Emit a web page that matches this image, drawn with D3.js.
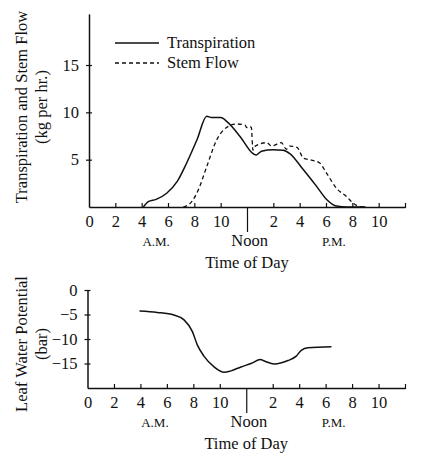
<!DOCTYPE html>
<html>
<head>
<meta charset="utf-8">
<script src="https://cdn.jsdelivr.net/npm/d3@7"></script>
<style>
  body { margin: 0; background: #fff; }
  text { font-family: "Liberation Serif", "DejaVu Serif", serif; fill: #111; }
</style>
</head>
<body>
<script>
//data (hour of day, value)
var transpiration = [[4.13,0],[4.5,0.56],[5.1,0.8],[5.9,1.45],[6.7,2.7],[7.4,4.6],[8.2,7.1],[8.94,9.6],
    [9.3,9.45],[10.0,9.45],[10.5,9.0],[11.5,7.4],[12.5,5.6],[12.7,5.5],[13.1,5.9],[14.0,6.05],
    [14.75,6.0],[15.25,5.65],[16.3,3.9],[17.3,2.15],[18.05,0.8],[18.8,0.1],[19.6,0],[21,0]];
var stemFlow = [[7.16,0],[7.8,0.56],[8.3,1.8],[8.94,4.26],[9.7,7.1],[10.45,8.4],[11.2,8.77],[11.85,8.66],
    [11.97,8.4],[12.2,8.5],[12.33,8.4],[12.45,6.0],[12.6,6.4],[13.5,6.8],[13.87,6.44],[14.6,6.8],
    [15.0,6.1],[15.26,6.44],[15.8,6.3],[16.3,5.14],[16.9,4.96],[17.5,4.68],[18.05,3.56],[18.8,1.97],
    [19.57,1.09],[20.07,0.39],[20.6,0.03],[21,0]];
var leafPotential = [[3.93,-4.3],[5.27,-4.57],[6.53,-5.1],[7.3,-6.1],[7.93,-8.5],[8.3,-11.2],[8.8,-13.5],
    [9.57,-15.7],[10.33,-16.8],[10.84,-16.5],[11.6,-15.7],[12.36,-15.0],[13.07,-14.2],[13.37,-14.5],
    [14.13,-15.1],[15.15,-14.4],[15.78,-13.5],[16.16,-12.3],[16.67,-11.8],[18.44,-11.6]];

var hourTicks = [2,4,6,8,10,12,14,16,18,20,22,24];
var hourLabels = {0:"0",2:"2",4:"4",6:"6",8:"8",10:"10",14:"2",16:"4",18:"6",20:"8",22:"10"};
var topTicks = [5,10,15];
var bottomTicks = [0,-5,-10,-15];
var legendItems = [{name:"Transpiration", dash:null}, {name:"Stem Flow", dash:"4,3"}];
var dayLabels = [{t:"A.M.", h:5.1, small:true}, {t:"Noon", h:12.2, small:false}, {t:"P.M.", h:18.6, small:true}];

var w = 446, h = 466;

window.onload = function(){

    var svg = d3.select("body").append("svg")
        .attr("width", w)
        .attr("height", h);

    //one panel = x axis, y axis, labels
    function panel(x0, yDomain, yRange, ticks, title1, title2, titleY){
        var x = d3.scaleLinear().domain([0, 24]).range([x0, 405]);
        var yS = d3.scaleLinear().domain(yDomain).range(yRange);
        var base = yRange[0];

        //x axis
        var xg = svg.append("g")
            .attr("transform", "translate(0," + base + ")")
            .call(d3.axisBottom(x)
                .tickValues([0].concat(hourTicks))
                .tickSizeInner(-4).tickSizeOuter(0)
                .tickPadding(8)
                .tickFormat(function(d){ return hourLabels[d] || ""; }));
        xg.selectAll("line").attr("y1", 1).attr("stroke", "#111").attr("stroke-width", 1.2);
        xg.selectAll(".tick").filter(function(d){ return d === 0; }).select("line").remove();
        xg.selectAll(".tick").filter(function(d){ return d === 12; }).select("line")
            .attr("y1", 0).attr("y2", 25);
        xg.select(".domain").attr("stroke", "#111").attr("stroke-width", 1.5);
        xg.selectAll("text").attr("font-size", 16.5).attr("font-family", "Liberation Serif").attr("fill", "#111");

        //y axis
        var yg = svg.append("g")
            .attr("transform", "translate(" + x0 + ",0)")
            .call(d3.axisLeft(yS).tickValues(ticks).tickSizeInner(3).tickSizeOuter(0).tickPadding(7)
                .tickFormat(function(d){ return d < 0 ? "\u2212" + (-d) : d; }));
        yg.selectAll("line").attr("x1", 3).attr("stroke", "#111").attr("stroke-width", 1.2);
        yg.select(".domain").attr("stroke", "#111").attr("stroke-width", 1.5);
        yg.selectAll("text").attr("font-size", 16.5).attr("font-family", "Liberation Serif").attr("fill", "#111");

        //A.M. / Noon / P.M.
        svg.selectAll(null).data(dayLabels).enter().append("text")
            .attr("x", function(d){ return x(d.h); })
            .attr("y", base + 39)
            .attr("text-anchor", "middle")
            .attr("font-size", function(d){ return d.small ? 13 : 16.5; })
            .text(function(d){ return d.t; });

        svg.append("text")
            .attr("x", x(12)).attr("y", base + 61)
            .attr("text-anchor", "middle").attr("font-size", 16.5)
            .text("Time of Day");

        //rotated y titles
        svg.append("text")
            .attr("transform", "translate(27," + titleY + ") rotate(-90)")
            .attr("text-anchor", "middle").attr("font-size", 16.5)
            .text(title1);
        svg.append("text")
            .attr("transform", "translate(47," + titleY + ") rotate(-90)")
            .attr("text-anchor", "middle").attr("font-size", 16.5)
            .text(title2);

        return {x: x, y: yS};
    }

    var top = panel(89, [0, 20.4], [207, 13.9], topTicks,
        "Transpiration and Stem Flow", "(kg per hr.)", 107);
    var bot = panel(87.5, [-20, 0], [388, 290], bottomTicks,
        "Leaf Water Potential", "(bar)", 344);

    var lineTop = d3.line()
        .x(function(d){ return top.x(d[0]); })
        .y(function(d){ return top.y(d[1]); })
        .curve(d3.curveMonotoneX);

    svg.append("path").datum(transpiration)
        .attr("d", lineTop)
        .attr("fill", "none").attr("stroke", "#111").attr("stroke-width", 1.5);

    svg.append("path").datum(stemFlow)
        .attr("d", lineTop)
        .attr("fill", "none").attr("stroke", "#111").attr("stroke-width", 1.3)
        .attr("stroke-dasharray", "4,3");

    var lineBot = d3.line()
        .x(function(d){ return bot.x(d[0]); })
        .y(function(d){ return bot.y(d[1]); })
        .curve(d3.curveMonotoneX);

    svg.append("path").datum(leafPotential)
        .attr("d", lineBot)
        .attr("fill", "none").attr("stroke", "#111").attr("stroke-width", 1.5);

    //legend
    var lg = svg.selectAll(".legend").data(legendItems).enter().append("g")
        .attr("class", "legend")
        .attr("transform", function(d, i){ return "translate(115," + (43 + i * 20) + ")"; });
    lg.append("line")
        .attr("x1", 0).attr("x2", 44)
        .attr("stroke", "#111").attr("stroke-width", 1.4)
        .attr("stroke-dasharray", function(d){ return d.dash; });
    lg.append("text")
        .attr("x", 52).attr("y", 5)
        .attr("font-size", 16.5)
        .text(function(d){ return d.name; });
};
</script>
</body>
</html>
